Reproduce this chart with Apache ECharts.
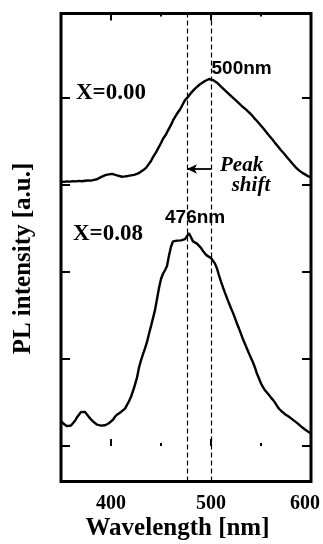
<!DOCTYPE html>
<html>
<head>
<meta charset="utf-8">
<script src="https://cdn.jsdelivr.net/npm/echarts@6/dist/echarts.min.js"></script>
<style>
  html, body { margin: 0; padding: 0; background: #fff; }
  #chart { width: 323px; height: 544px; }
</style>
</head>
<body>
<div id="chart"></div>
<script>
// PL spectra, wavelength in nm and intensity in arbitrary (offset) units
const wavelengthA = [350,353,356,359,362,365,368,371,374,377,380,383,386,389,392,395,398,401,403,406,408,411,414,417,420,423,426,429,432,435,437,440,442,445,447,450,452,455,457,460,462,465,467,469,471,474,476,479,481,484,486,489,491,494,496,498,500,502,504,506,508,510,512,514,516,518,521,523,526,528,531,534,537,540,543,546,549,552,555,558,561,564,567,570,573,576,579,582,585,588,591,594,597,600];
const intensityX000 = [3.040,3.036,3.042,3.038,3.044,3.041,3.047,3.043,3.049,3.052,3.050,3.058,3.066,3.085,3.101,3.116,3.122,3.128,3.121,3.110,3.102,3.095,3.099,3.104,3.110,3.117,3.127,3.145,3.168,3.197,3.228,3.276,3.320,3.375,3.418,3.482,3.532,3.580,3.628,3.690,3.742,3.800,3.836,3.868,3.910,3.975,3.998,4.043,4.070,4.108,4.128,4.158,4.176,4.195,4.210,4.218,4.212,4.206,4.190,4.176,4.155,4.130,4.110,4.088,4.068,4.045,4.012,3.990,3.962,3.940,3.905,3.878,3.846,3.812,3.772,3.735,3.696,3.656,3.612,3.570,3.528,3.484,3.443,3.400,3.362,3.318,3.279,3.238,3.200,3.168,3.142,3.122,3.102,3.086];

const wavelengthB = [350,352,354,356,358,360,362,364,366,368,370,372,374,376,378,380,382,384,386,388,390,392,394,396,398,400,402,404,406,408,410,412,414,416,418,420,422,424,426,428,430,432,434,436,438,440,442,444,446,448,450,452,454,456,458,460,462,464,466,468,470,472,474,476,478,480,482,484,486,488,490,492,494,496,498,500,502,504,506,508,510,512,514,516,518,520,522,524,526,528,530,532,534,536,538,540,542,544,546,548,550,552,554,556,558,560,562,564,566,568,570,572,574,576,578,580,582,584,586,588,590,592,594,596,598,600];
const intensityX008 = [0.285,0.262,0.244,0.228,0.222,0.236,0.258,0.290,0.330,0.360,0.392,0.406,0.390,0.362,0.332,0.305,0.282,0.262,0.246,0.232,0.234,0.240,0.238,0.250,0.262,0.276,0.302,0.336,0.360,0.378,0.392,0.405,0.430,0.472,0.515,0.566,0.632,0.705,0.785,0.902,0.985,1.055,1.122,1.196,1.290,1.378,1.470,1.562,1.690,1.815,1.920,1.980,2.020,2.068,2.190,2.290,2.352,2.372,2.360,2.346,2.364,2.358,2.378,2.392,2.446,2.400,2.352,2.345,2.326,2.308,2.278,2.240,2.212,2.188,2.174,2.160,2.140,2.096,2.040,1.962,1.890,1.822,1.760,1.700,1.640,1.584,1.530,1.470,1.406,1.350,1.288,1.226,1.172,1.118,1.064,1.012,0.960,0.900,0.830,0.776,0.718,0.676,0.640,0.618,0.585,0.556,0.530,0.498,0.462,0.428,0.405,0.390,0.366,0.352,0.336,0.318,0.300,0.285,0.266,0.244,0.226,0.206,0.190,0.172,0.158,0.145];

// peak positions and annotation values
const peakX000 = 500;
const peakX008 = 476;
const arrowLevel = 3.184;
const xMajorTicks = [400, 500];
const xMinorTicks = [450, 550];
const xTickLabels = [400, 500, 600];
const yTicks = [0, 1, 2, 3, 4];

const serif = '"Liberation Serif", "Times New Roman", serif';
const sans = '"Liberation Sans", Arial, sans-serif';

const pairs = (xs, ys) => xs.map((x, i) => [x, ys[i]]);

const chart = echarts.init(document.getElementById('chart'), null, { renderer: 'canvas' });

const xBase = { type: 'value', min: 350, max: 600, axisLine: { show: false }, splitLine: { show: false } };
const tickStyle = { color: '#000', width: 2 };

chart.setOption({
  animation: false,
  backgroundColor: '#fff',
  grid: { left: 61, right: 12, top: 13.5, bottom: 62.5, show: true, borderColor: '#000', borderWidth: 3, backgroundColor: 'transparent' },
  xAxis: [
    Object.assign({}, xBase, {
      position: 'bottom',
      axisTick: { inside: true, length: 7, lineStyle: tickStyle, customValues: xMajorTicks },
      axisLabel: {
        customValues: xTickLabels, margin: 12, color: '#000',
        fontFamily: serif, fontWeight: 'bold', fontSize: 20,
        formatter: v => v === 600 ? '{s|600}' : String(v),
        rich: { s: { fontFamily: serif, fontWeight: 'bold', fontSize: 20, color: '#000', padding: [0, 12, 0, 0] } }
      }
    }),
    Object.assign({}, xBase, {
      position: 'bottom',
      axisTick: { inside: true, length: 3, lineStyle: tickStyle, customValues: xMinorTicks },
      axisLabel: { show: false }
    }),
    Object.assign({}, xBase, {
      position: 'top',
      axisTick: { inside: true, length: 7, lineStyle: tickStyle, customValues: xMajorTicks },
      axisLabel: { show: false }
    }),
    Object.assign({}, xBase, {
      position: 'top',
      axisTick: { inside: true, length: 3, lineStyle: tickStyle, customValues: xMinorTicks },
      axisLabel: { show: false }
    })
  ],
  yAxis: [
    {
      type: 'value', min: -0.408, max: 4.971, position: 'left',
      axisLine: { show: false }, splitLine: { show: false },
      axisTick: { inside: true, length: 9, lineStyle: tickStyle, customValues: yTicks },
      axisLabel: { show: false }
    },
    {
      type: 'value', min: -0.408, max: 4.971, position: 'right',
      axisLine: { show: false }, splitLine: { show: false },
      axisTick: { inside: true, length: 9, lineStyle: tickStyle, customValues: yTicks },
      axisLabel: { show: false }
    }
  ],
  series: [
    {
      name: 'X=0.00', type: 'line', xAxisIndex: 0, yAxisIndex: 0,
      data: pairs(wavelengthA, intensityX000),
      showSymbol: false, smooth: false,
      lineStyle: { color: '#000', width: 2.4 },
      markLine: {
        silent: true, symbol: 'none', label: { show: false },
        lineStyle: { color: '#000', width: 1.2, type: [5, 3] },
        data: [{ xAxis: peakX008 }, { xAxis: peakX000 }]
      }
    },
    {
      name: 'X=0.08', type: 'line', xAxisIndex: 0, yAxisIndex: 0,
      data: pairs(wavelengthB, intensityX008),
      showSymbol: false, smooth: false,
      lineStyle: { color: '#000', width: 2.4 },
      markLine: {
        silent: true, symbol: ['none', 'arrow'], symbolSize: [7, 10], label: { show: false },
        lineStyle: { color: '#000', width: 1.8, type: 'solid' },
        data: [[{ coord: [peakX000, arrowLevel] }, { coord: [peakX008, arrowLevel] }]]
      }
    }
  ],
  graphic: [
    { type: 'text', x: 76, y: 93, style: { text: 'X=0.00', font: 'bold 23px ' + serif, fill: '#000', verticalAlign: 'middle' } },
    { type: 'text', x: 73, y: 234, style: { text: 'X=0.08', font: 'bold 23px ' + serif, fill: '#000', verticalAlign: 'middle' } },
    { type: 'text', x: 211.5, y: 69, style: { text: peakX000 + 'nm', font: 'bold 19px ' + sans, fill: '#000', verticalAlign: 'middle' } },
    { type: 'text', x: 165, y: 217.5, style: { text: peakX008 + 'nm', font: 'bold 19px ' + sans, fill: '#000', verticalAlign: 'middle' } },
    { type: 'text', x: 220, y: 166, style: { text: 'Peak', font: 'italic bold 21px ' + serif, fill: '#000', verticalAlign: 'middle' } },
    { type: 'text', x: 231.7, y: 186, style: { text: 'shift', font: 'italic bold 21px ' + serif, fill: '#000', verticalAlign: 'middle' } },
    { type: 'text', x: 177.5, y: 528.3, style: { text: 'Wavelength [nm]', font: 'bold 25px ' + serif, fill: '#000', align: 'center', verticalAlign: 'middle' } },
    { type: 'text', x: 23.3, y: 258.5, rotation: Math.PI / 2, style: { text: 'PL intensity [a.u.]', font: 'bold 25px ' + serif, fill: '#000', align: 'center', verticalAlign: 'middle' } }
  ]
});
</script>
</body>
</html>
